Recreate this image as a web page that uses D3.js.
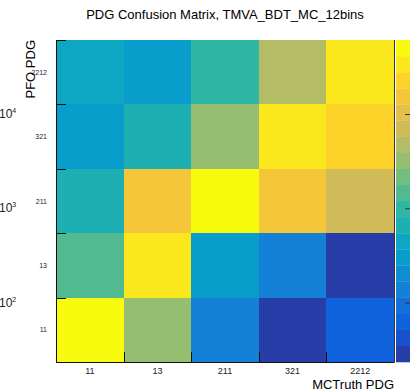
<!DOCTYPE html>
<html lang="en">
<head>
<meta charset="UTF-8">
<script src="https://d3js.org/d3.v7.min.js"></script>
<title>PDG confusion matrix</title>
<style>
  body { margin: 0; background: #fff; }
  text { font-family: "Liberation Sans", Arial, Helvetica, sans-serif; }
</style>
</head>
<body>
<script>
// categories
var mcTruthPdg = ["11", "13", "211", "321", "2212"];
var pfoPdg = ["11", "13", "211", "321", "2212"];

// counts, one row per reconstructed (PFO) PDG, columns follow mcTruthPdg
var pfo11 = [50210, 3184, 139, 27, 64];
var pfo13 = [1462, 33720, 298, 134, 28];
var pfo211 = [658, 15380, 52400, 15630, 7040];
var pfo321 = [303, 671, 3215, 34150, 22870];
var pfo2212 = [446, 301, 978, 4725, 33560];
var countRows = [pfo11, pfo13, pfo211, pfo321, pfo2212];

// colour axis (log) limits and labelled decades
var zMin = 23.4, zMax = 61000;
var zTicks = [100, 1000, 10000];
var nContours = 20;

var width = 410, height = 392;
// frame edges (window.top is read-only, so no plain "top")
var fLeft = 56, fRight = 394, fTop = 40, fBottom = 362;

var svg = d3.select("body").append("svg")
  .attr("width", width).attr("height", height);

// ROOT kBird palette
var stops = [0.0, 0.125, 0.25, 0.375, 0.5, 0.625, 0.75, 0.875, 1.0];
var red   = [0.2082, 0.0592, 0.0780, 0.0232, 0.1802, 0.5301, 0.8186, 0.9956, 0.9764];
var green = [0.1664, 0.3599, 0.5041, 0.6419, 0.7178, 0.7492, 0.7328, 0.7862, 0.9832];
var blue  = [0.5293, 0.8684, 0.8385, 0.7914, 0.6425, 0.4662, 0.3499, 0.1968, 0.0539];
var palette = d3.scaleLinear()
  .domain(stops)
  .range(stops.map(function(s, i) {
    return d3.rgb(red[i] * 255, green[i] * 255, blue[i] * 255);
  }))
  .interpolate(d3.interpolateRgb);

function levelColor(i) {
  var idx = Math.floor((i + 0.99) * 255 / nContours);
  return palette(Math.min(idx, 254) / 254);
}

var x = d3.scaleBand().domain(mcTruthPdg).range([fLeft, fRight]);
var y = d3.scaleBand().domain(pfoPdg).range([fBottom, fTop]);
var z = d3.scaleLog().domain([zMin, zMax]).range([fBottom, fTop]);
var level = d3.scaleLog().domain([zMin, zMax]).range([0, nContours]);

function cellColor(v) {
  var i = Math.floor(level(v));
  return levelColor(Math.max(0, Math.min(nContours - 1, i)));
}

// cells
var cells = [];
countRows.forEach(function(row, r) {
  row.forEach(function(v, c) {
    cells.push({ pfo: pfoPdg[r], mc: mcTruthPdg[c], v: v });
  });
});

svg.append("g").selectAll("rect")
  .data(cells)
  .enter()
  .append("rect")
  .attr("x", function(d) { return x(d.mc); })
  .attr("y", function(d) { return y(d.pfo); })
  .attr("width", x.bandwidth())
  .attr("height", y.bandwidth())
  .attr("fill", function(d) { return cellColor(d.v); })
  .attr("shape-rendering", "crispEdges");

// frame lines
var frame = svg.append("g").attr("stroke", "#111").attr("stroke-width", 1);
frame.append("line").attr("x1", fLeft + 0.5).attr("x2", fLeft + 0.5).attr("y1", fTop).attr("y2", fBottom + 0.5);
frame.append("line").attr("x1", fLeft).attr("x2", fRight + 0.5).attr("y1", fBottom + 0.5).attr("y2", fBottom + 0.5);
frame.append("line").attr("x1", fRight + 0.5).attr("x2", fRight + 0.5).attr("y1", fTop).attr("y2", fBottom + 0.5)
  .attr("stroke", "#333");

// ticks at the bin edges
var xEdges = mcTruthPdg.slice(1).map(function(d) { return x(d); });
frame.selectAll(".xtick")
  .data(xEdges)
  .enter()
  .append("line")
  .attr("x1", function(d) { return Math.round(d) + 0.5; })
  .attr("x2", function(d) { return Math.round(d) + 0.5; })
  .attr("y1", fBottom)
  .attr("y2", fBottom - 10);

frame.selectAll(".ytick")
  .data(pfoPdg.map(function(d) { return y(d); }))
  .enter()
  .append("line")
  .attr("y1", function(d) { return Math.round(d) + 0.5; })
  .attr("y2", function(d) { return Math.round(d) + 0.5; })
  .attr("x1", fLeft)
  .attr("x2", fLeft + 10);

// tick labels
svg.append("g").selectAll("text")
  .data(mcTruthPdg)
  .enter()
  .append("text")
  .attr("x", function(d) { return x(d) + x.bandwidth() / 2; })
  .attr("y", 374)
  .attr("text-anchor", "middle")
  .style("font-size", "9px")
  .style("fill", "#222")
  .text(function(d) { return d; });

svg.append("g").selectAll("text")
  .data(pfoPdg)
  .enter()
  .append("text")
  .attr("x", 47)
  .attr("y", function(d) { return y(d) + y.bandwidth() / 2 + 2.5; })
  .attr("text-anchor", "end")
  .style("font-size", "7px")
  .style("fill", "#222")
  .text(function(d) { return d; });

// titles
svg.append("text")
  .attr("x", (fLeft + fRight) / 2)
  .attr("y", 19)
  .attr("text-anchor", "middle")
  .style("font-size", "13px")
  .text("PDG Confusion Matrix, TMVA_BDT_MC_12bins");

svg.append("text")
  .attr("x", fRight)
  .attr("y", 389)
  .attr("text-anchor", "end")
  .style("font-size", "13px")
  .text("MCTruth PDG");

svg.append("text")
  .attr("transform", "translate(35," + fTop + ") rotate(-90)")
  .attr("text-anchor", "end")
  .style("font-size", "13px")
  .text("PFO PDG");

// colour bar
var zLevels = d3.range(nContours);
var logMin = Math.log10(zMin), logMax = Math.log10(zMax);
svg.append("g").selectAll("rect")
  .data(zLevels)
  .enter()
  .append("rect")
  .attr("x", 396)
  .attr("width", 20)
  .attr("y", function(i) { return z(Math.pow(10, logMin + (i + 1) * (logMax - logMin) / nContours)); })
  .attr("height", (fBottom - fTop) / nContours + 0.3)
  .attr("fill", function(i) { return levelColor(i); });

var zAxis = svg.append("g")
  .attr("transform", "translate(410,0)")
  .call(d3.axisLeft(z).tickValues(zTicks).tickSize(5).tickFormat(""));
zAxis.select(".domain").remove();
zAxis.selectAll("line").attr("stroke", "#333");

// colour bar labels (they wrap round to the left edge)
var zLab = svg.append("g").selectAll("text")
  .data(zTicks)
  .enter()
  .append("text")
  .attr("x", -1)
  .attr("y", function(d) { return z(d) + 4; })
  .style("font-size", "12px")
  .style("fill", "#222");
zLab.append("tspan").text("10");
zLab.append("tspan")
  .attr("dy", -5)
  .style("font-size", "7px")
  .text(function(d) { return Math.round(Math.log10(d)); });
</script>
</body>
</html>
